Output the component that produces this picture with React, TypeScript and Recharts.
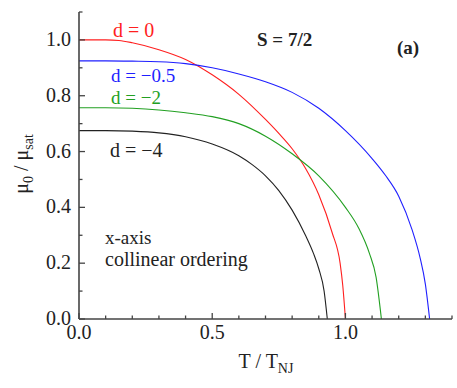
import { LineChart, Line, XAxis, YAxis } from "recharts";

// T / T_NJ and mu0 / mu_sat, one pair of arrays per curve
const d0T = [0, 0.1, 0.15, 0.2, 0.3, 0.4, 0.5, 0.6, 0.7, 0.75, 0.8, 0.85, 0.9, 0.95, 0.98, 0.99, 1.0];
const d0Mu = [1.0, 1.0, 0.998, 0.99, 0.965, 0.93, 0.875, 0.805, 0.715, 0.665, 0.61, 0.54, 0.445, 0.31, 0.2, 0.12, 0.0];

const dm05T = [0, 0.1, 0.2, 0.3, 0.4, 0.5, 0.6, 0.7, 0.8, 0.9, 1.0, 1.1, 1.15, 1.2, 1.25, 1.28, 1.3, 1.316];
const dm05Mu = [0.925, 0.925, 0.924, 0.922, 0.915, 0.9, 0.878, 0.85, 0.812, 0.755, 0.675, 0.575, 0.515, 0.44, 0.32, 0.22, 0.125, 0.0];

const dm2T = [0, 0.1, 0.2, 0.3, 0.4, 0.5, 0.6, 0.7, 0.8, 0.9, 1.0, 1.05, 1.09, 1.115, 1.135];
const dm2Mu = [0.757, 0.757, 0.755, 0.749, 0.739, 0.725, 0.7, 0.655, 0.592, 0.513, 0.4, 0.325, 0.235, 0.15, 0.0];

const dm4T = [0, 0.1, 0.2, 0.3, 0.4, 0.5, 0.6, 0.65, 0.7, 0.75, 0.8, 0.85, 0.88, 0.9, 0.92, 0.932];
const dm4Mu = [0.675, 0.675, 0.673, 0.667, 0.653, 0.627, 0.585, 0.553, 0.513, 0.46, 0.39, 0.3, 0.235, 0.18, 0.1, 0.0];

const xTicks = [0, 0.1, 0.2, 0.3, 0.4, 0.5, 0.6, 0.7, 0.8, 0.9, 1.0, 1.1, 1.2, 1.3, 1.4];
const xLabels = [0, 0.5, 1.0];
const yTicks = [0, 0.1, 0.2, 0.3, 0.4, 0.5, 0.6, 0.7, 0.8, 0.9, 1.0, 1.1];
const yLabels = [0, 0.2, 0.4, 0.6, 0.8, 1.0];

const toPoints = (ts: number[], mus: number[]) => ts.map((t, i) => ({ t, mu: mus[i] }));

const FONT = "Liberation Serif";
const AXIS = "#444";

const isLabel = (list: number[], v: number) => list.some((l) => Math.abs(l - v) < 1e-6);

// inward ticks, long on the labelled values
const BottomTick = (props: any) => {
  const { x, y, payload } = props;
  const major = isLabel(xLabels, payload.value);
  return (
    <g>
      <line x1={x} x2={x} y1={y} y2={y - (major ? 6 : 3.5)} stroke={AXIS} strokeWidth={1.3} />
      {major && (
        <text x={x} y={y + 20} textAnchor="middle" style={{ fontFamily: FONT, fontSize: 20 }} fill="#222">
          {payload.value.toFixed(1)}
        </text>
      )}
    </g>
  );
};

const TopTick = (props: any) => {
  const { x, y, payload } = props;
  const major = isLabel(xLabels, payload.value);
  return <line x1={x} x2={x} y1={y} y2={y + (major ? 6 : 3.5)} stroke={AXIS} strokeWidth={1.3} />;
};

const LeftTick = (props: any) => {
  const { x, y, payload } = props;
  const major = isLabel(yLabels, payload.value);
  return (
    <g>
      <line x1={x} x2={x + (major ? 6 : 3.5)} y1={y} y2={y} stroke={AXIS} strokeWidth={1.3} />
      {major && (
        <text x={x - 8} y={y + 6} textAnchor="end" style={{ fontFamily: FONT, fontSize: 20 }} fill="#222">
          {payload.value.toFixed(1)}
        </text>
      )}
    </g>
  );
};

const RightTick = (props: any) => {
  const { x, y, payload } = props;
  const major = isLabel(yLabels, payload.value);
  return <line x1={x} x2={x - (major ? 6 : 3.5)} y1={y} y2={y} stroke={AXIS} strokeWidth={1.3} />;
};

const series = [
  { name: "d = 0", data: toPoints(d0T, d0Mu), color: "#ff1f1f" },
  { name: "d = -0.5", data: toPoints(dm05T, dm05Mu), color: "#1f1fff" },
  { name: "d = -2", data: toPoints(dm2T, dm2Mu), color: "#22a022" },
  { name: "d = -4", data: toPoints(dm4T, dm4Mu), color: "#222222" },
];

export default function App() {
  return (
    <div style={{ position: "absolute", left: 0, top: 0, background: "#fff", fontFamily: FONT }}>
      <LineChart width={457} height={388} margin={{ top: 12, right: 5, bottom: 0, left: 0 }}>
        <XAxis
          type="number"
          dataKey="t"
          domain={[0, 1.4]}
          ticks={xTicks}
          interval={0}
          allowDataOverflow
          height={69}
          tickSize={0}
          tickMargin={0}
          tickLine={false}
          tick={<BottomTick />}
          axisLine={{ stroke: AXIS, strokeWidth: 1.6 }}
        />
        <XAxis
          xAxisId="top"
          orientation="top"
          type="number"
          domain={[0, 1.4]}
          ticks={xTicks}
          interval={0}
          allowDataOverflow
          height={0}
          tickSize={0}
          tickMargin={0}
          tickLine={false}
          tick={<TopTick />}
          axisLine={{ stroke: AXIS, strokeWidth: 1.6 }}
        />
        <YAxis
          type="number"
          domain={[0, 1.1]}
          ticks={yTicks}
          interval={0}
          allowDataOverflow
          width={79}
          tickSize={0}
          tickMargin={0}
          tickLine={false}
          tick={<LeftTick />}
          axisLine={{ stroke: AXIS, strokeWidth: 1.6 }}
        />
        <YAxis
          yAxisId="right"
          orientation="right"
          type="number"
          domain={[0, 1.1]}
          ticks={yTicks}
          interval={0}
          allowDataOverflow
          width={0}
          tickSize={0}
          tickMargin={0}
          tickLine={false}
          tick={<RightTick />}
          axisLine={{ stroke: AXIS, strokeWidth: 1.6 }}
        />
        {series.map((s) => (
          <Line
            key={s.name}
            data={s.data}
            dataKey="mu"
            type="monotone"
            stroke={s.color}
            strokeWidth={1.1}
            dot={false}
            isAnimationActive={false}
          />
        ))}
        <g style={{ fontFamily: FONT, fontSize: 19 }}>
          <text x={113} y={37} fill="#ff1f1f" style={{ fontSize: 20 }}>d = 0</text>
          <text x={111} y={81.5} fill="#1f1fff">d = −0.5</text>
          <text x={111} y={103.5} fill="#22a022">d = −2</text>
          <text x={110} y={157} fill="#222" style={{ fontSize: 20 }}>d = −4</text>
          <text x={257} y={46} fill="#222" fontWeight="bold">S = 7/2</text>
          <text x={397} y={54} fill="#222" fontWeight="bold">(a)</text>
          <text x={105} y={243.5} fill="#222">x-axis</text>
          <text x={105} y={265.5} fill="#222" style={{ fontSize: 20 }}>collinear ordering</text>
          <text x={266} y={368} textAnchor="middle" fill="#222" style={{ fontSize: 20 }}>
            T / T<tspan style={{ fontSize: 14 }} dy={5}>NJ</tspan>
          </text>
          <text transform="translate(28,164) rotate(-90)" textAnchor="middle" fill="#222" style={{ fontSize: 20 }}>
            μ<tspan style={{ fontSize: 14 }} dy={5}>0</tspan>
            <tspan dy={-5}> / μ</tspan>
            <tspan style={{ fontSize: 14 }} dy={5}>sat</tspan>
          </text>
        </g>
      </LineChart>
    </div>
  );
}
